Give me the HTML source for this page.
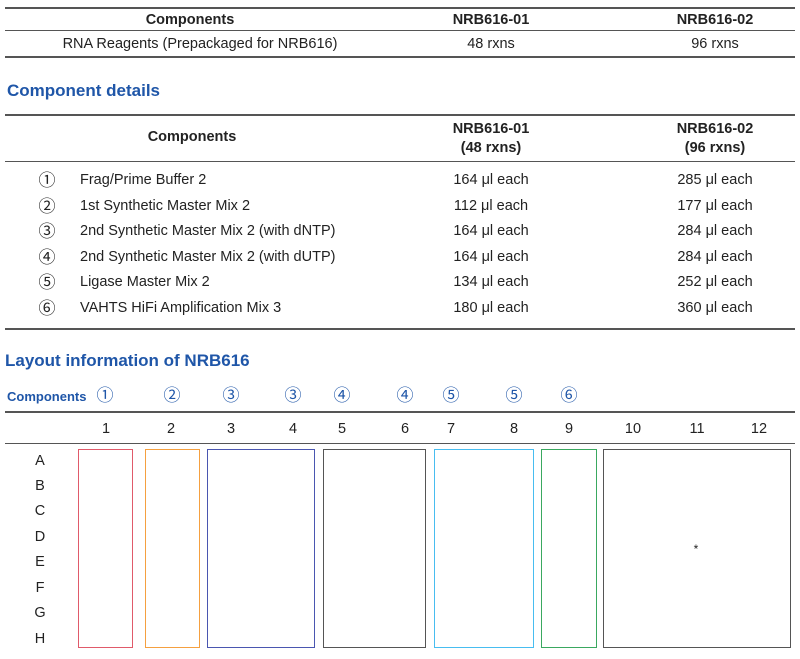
<!DOCTYPE html>
<html><head><meta charset="utf-8"><style>
body{margin:0;width:800px;height:659px;background:#fff;position:relative;font-family:"Liberation Sans",Arial,sans-serif;color:#222;overflow:hidden}
.t{position:absolute;white-space:nowrap;font-size:14.5px;line-height:1}
.c{transform:translateX(-50%);text-align:center}
.b{font-weight:bold}
.h{position:absolute;height:0;border-top:2px solid #555}
.bl{color:#1f56a8;font-weight:bold}
.n{font-family:"Noto Sans CJK SC","WenQuanYi Zen Hei",sans-serif;font-size:17px;font-weight:normal}
.box{position:absolute;border:1.6px solid;top:449px;height:199px;box-sizing:border-box}
</style></head><body>
<div class="h" style="left:5px;width:790px;top:7px"></div>
<div class="h" style="left:5px;width:790px;top:30px;border-top-width:1.5px"></div>
<div class="h" style="left:5px;width:790px;top:56px"></div>
<div class="t b c" style="left:190px;top:13px">Components</div>
<div class="t b c" style="left:491px;top:13px">NRB616-01</div>
<div class="t b c" style="left:715px;top:13px">NRB616-02</div>
<div class="t c" style="left:200px;top:37px">RNA Reagents (Prepackaged for NRB616)</div>
<div class="t c" style="left:491px;top:37px">48 rxns</div>
<div class="t c" style="left:715px;top:37px">96 rxns</div>

<div class="t bl" style="left:7px;top:82px;font-size:17px">Component details</div>
<div class="h" style="left:5px;width:790px;top:114px"></div>
<div class="h" style="left:5px;width:790px;top:161px;border-top-width:1.5px"></div>
<div class="h" style="left:5px;width:790px;top:328px"></div>
<div class="t b c" style="left:192px;top:130px">Components</div>
<div class="t b c" style="left:491px;top:120px;line-height:19px">NRB616-01<br>(48 rxns)</div>
<div class="t b c" style="left:715px;top:120px;line-height:19px">NRB616-02<br>(96 rxns)</div>

<div class="t c n" style="left:47px;top:170px">①</div><div class="t" style="left:80px;top:173px">Frag/Prime Buffer 2</div><div class="t c" style="left:491px;top:173px">164 μl each</div><div class="t c" style="left:715px;top:173px">285 μl each</div>
<div class="t c n" style="left:47px;top:196px">②</div><div class="t" style="left:80px;top:199px">1st Synthetic Master Mix 2</div><div class="t c" style="left:491px;top:199px">112 μl each</div><div class="t c" style="left:715px;top:199px">177 μl each</div>
<div class="t c n" style="left:47px;top:221px">③</div><div class="t" style="left:80px;top:224px">2nd Synthetic Master Mix 2 (with dNTP)</div><div class="t c" style="left:491px;top:224px">164 μl each</div><div class="t c" style="left:715px;top:224px">284 μl each</div>
<div class="t c n" style="left:47px;top:247px">④</div><div class="t" style="left:80px;top:250px">2nd Synthetic Master Mix 2 (with dUTP)</div><div class="t c" style="left:491px;top:250px">164 μl each</div><div class="t c" style="left:715px;top:250px">284 μl each</div>
<div class="t c n" style="left:47px;top:272px">⑤</div><div class="t" style="left:80px;top:275px">Ligase Master Mix 2</div><div class="t c" style="left:491px;top:275px">134 μl each</div><div class="t c" style="left:715px;top:275px">252 μl each</div>
<div class="t c n" style="left:47px;top:298px">⑥</div><div class="t" style="left:80px;top:301px">VAHTS HiFi Amplification Mix 3</div><div class="t c" style="left:491px;top:301px">180 μl each</div><div class="t c" style="left:715px;top:301px">360 μl each</div>

<div class="t bl" style="left:5px;top:352px;font-size:17px">Layout information of NRB616</div>
<div class="t bl" style="left:7px;top:390px;font-size:13px">Components</div>
<div class="t c bl n" style="left:105px;top:385px">①</div>
<div class="t c bl n" style="left:172px;top:385px">②</div>
<div class="t c bl n" style="left:231px;top:385px">③</div>
<div class="t c bl n" style="left:293px;top:385px">③</div>
<div class="t c bl n" style="left:342px;top:385px">④</div>
<div class="t c bl n" style="left:405px;top:385px">④</div>
<div class="t c bl n" style="left:451px;top:385px">⑤</div>
<div class="t c bl n" style="left:514px;top:385px">⑤</div>
<div class="t c bl n" style="left:569px;top:385px">⑥</div>
<div class="h" style="left:5px;width:790px;top:411px"></div>
<div class="h" style="left:5px;width:790px;top:443px;border-top-width:1.5px"></div>
<div class="t c" style="left:106px;top:422px">1</div>
<div class="t c" style="left:171px;top:422px">2</div>
<div class="t c" style="left:231px;top:422px">3</div>
<div class="t c" style="left:293px;top:422px">4</div>
<div class="t c" style="left:342px;top:422px">5</div>
<div class="t c" style="left:405px;top:422px">6</div>
<div class="t c" style="left:451px;top:422px">7</div>
<div class="t c" style="left:514px;top:422px">8</div>
<div class="t c" style="left:569px;top:422px">9</div>
<div class="t c" style="left:633px;top:422px">10</div>
<div class="t c" style="left:697px;top:422px">11</div>
<div class="t c" style="left:759px;top:422px">12</div>
<div class="t c" style="left:40px;top:454px">A</div>
<div class="t c" style="left:40px;top:479px">B</div>
<div class="t c" style="left:40px;top:504px">C</div>
<div class="t c" style="left:40px;top:530px">D</div>
<div class="t c" style="left:40px;top:555px">E</div>
<div class="t c" style="left:40px;top:581px">F</div>
<div class="t c" style="left:40px;top:606px">G</div>
<div class="t c" style="left:40px;top:632px">H</div>
<div class="box" style="left:78px;width:55px;border-color:#e05a6a"></div>
<div class="box" style="left:145px;width:55px;border-color:#f5a040"></div>
<div class="box" style="left:207px;width:108px;border-color:#4a56b0"></div>
<div class="box" style="left:323px;width:103px;border-color:#555"></div>
<div class="box" style="left:434px;width:100px;border-color:#48bdf0"></div>
<div class="box" style="left:541px;width:56px;border-color:#3aa860"></div>
<div class="box" style="left:603px;width:188px;border-color:#555"></div>
<div class="t c" style="left:696px;top:543px;font-size:12px">*</div>
</body></html>
